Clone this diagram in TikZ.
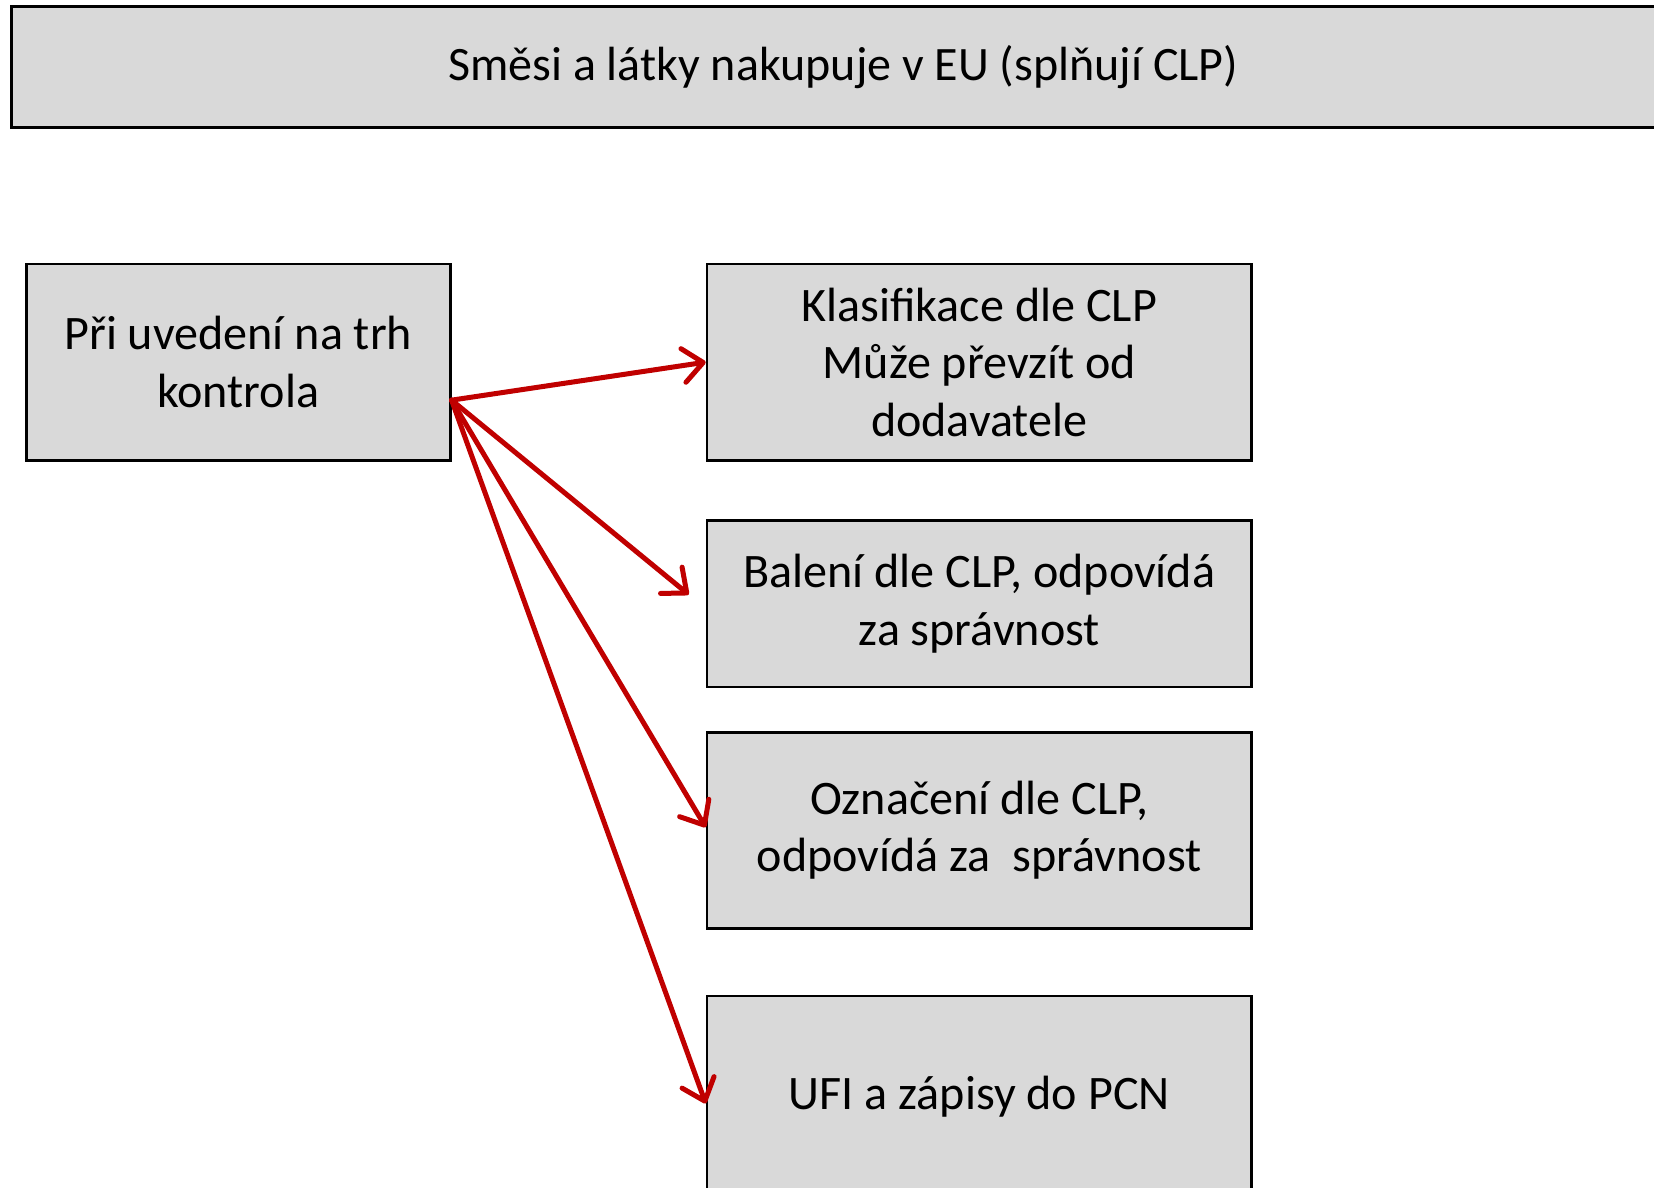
\documentclass[tikz,border=0pt]{standalone}
\usepackage{fontspec}
\setmainfont{Carlito}
\usetikzlibrary{arrows.meta}
\definecolor{boxgray}{HTML}{D9D9D9}
\definecolor{arrred}{HTML}{C00000}
\tikzset{
  box/.style={draw=black, line width=2.6pt, fill=boxgray, align=center, inner sep=0pt,
    font=\fontsize{48.1}{57.5}\selectfont},
  conn/.style={draw=arrred, line width=5pt, line cap=round,
    -{Straight Barb[length=20pt,width=34pt,round]}},
}
\begin{document}
\begin{tikzpicture}[x=1pt,y=-1pt]
\clip (0,0) rectangle (1654,1188);
\fill[white] (0,0) rectangle (1654,1188);
\node[box, minimum width=1664pt, minimum height=121pt, anchor=north west,
  font=\fontsize{48}{57}\selectfont] (T) at (10,5) {Směsi a látky nakupuje v EU (splňují CLP)};
\node[box, minimum width=424pt, minimum height=196.5pt, anchor=north west] (L) at (25,262.6)
  {Při uvedení na trh\\kontrola};
\node[box, minimum width=544.5pt, minimum height=196.5pt, anchor=north west] (K) at (705.7,262.6)
  {Klasifikace dle CLP\\Může převzít od\\dodavatele};
\node[box, minimum width=544.5pt, minimum height=166.5pt, anchor=north west] (B) at (705.7,519)
  {Balení dle CLP, odpovídá\\za správnost};
\node[box, minimum width=544.5pt, minimum height=196pt, anchor=north west] (O) at (705.7,731)
  {Označení dle CLP,\\odpovídá za~ správnost};
\node[box, minimum width=544.5pt, minimum height=201pt, anchor=north west] (U) at (705.7,994.7)
  {UFI a zápisy do PCN};
\coordinate (S) at ([yshift=-38pt]L.east);
\draw[conn] (S) -- (K.west);
\draw[conn] (S) -- ([xshift=-17pt,yshift=9pt]B.west);
\draw[conn] (S) -- ([yshift=3pt]O.west);
\draw[conn] (S) -- ([yshift=-7pt]U.west);
\end{tikzpicture}
\end{document}
